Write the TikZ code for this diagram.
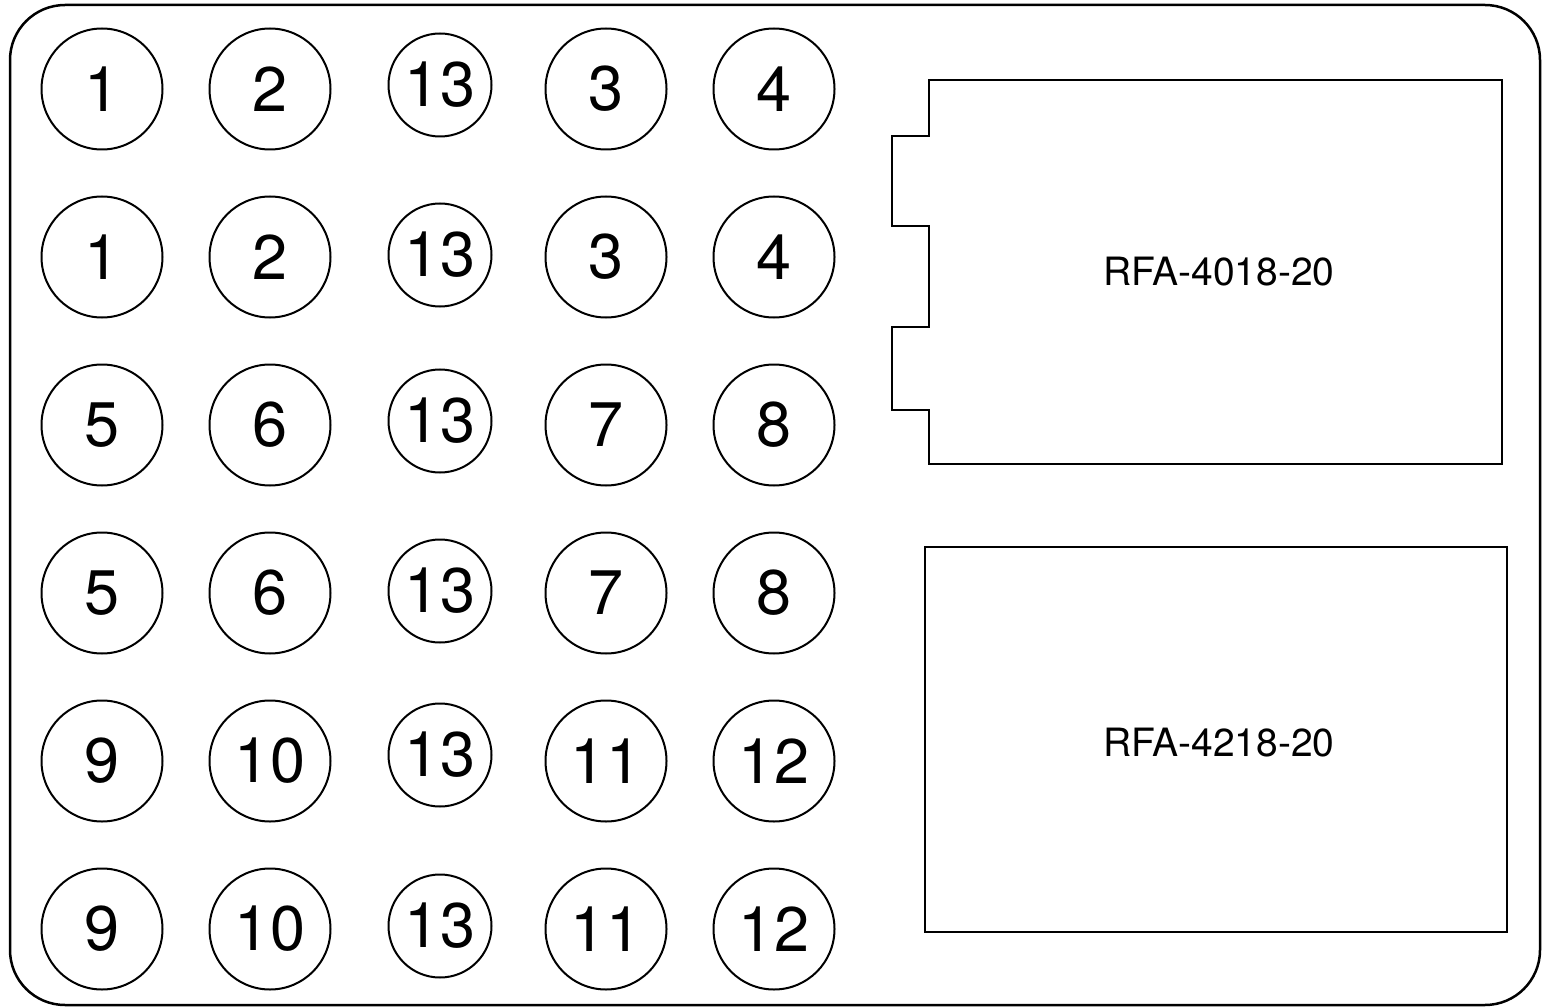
\documentclass[tikz,border=0pt]{standalone}
\usepackage{fontspec}
\setmainfont{TeX Gyre Heros}
\usepackage{tikz}

\tikzset{
  pin/.style = {draw, circle, line width=2pt, inner sep=0pt, minimum size=121pt,
                font=\fontsize{63}{70}\selectfont},
  gnd/.style = {pin, minimum size=103pt},
  board/.style = {line width=2.5pt},
  partname/.style = {font=\fontsize{39}{44}\selectfont}
}

\begin{document}
\begin{tikzpicture}[x=1pt, y=-1pt]
            \useasboundingbox (0,0) rectangle (1547,1008);
            % outer plate
            \draw[board, rounded corners=55pt] (10,5) rectangle (1540,1005);

            % row 1
            \node[pin] (p11) at (102,89) {1};
            \node[pin] (p12) at (270,89) {2};
            \node[gnd] (g1)  at (440,85) {13};
            \node[pin] (p13) at (606,89) {3};
            \node[pin] (p14) at (774,89) {4};
            % row 2
            \node[pin] (p21) at (102,257) {1};
            \node[pin] (p22) at (270,257) {2};
            \node[gnd] (g2)  at (440,255) {13};
            \node[pin] (p23) at (606,257) {3};
            \node[pin] (p24) at (774,257) {4};
            % row 3
            \node[pin] (p31) at (102,425) {5};
            \node[pin] (p32) at (270,425) {6};
            \node[gnd] (g3)  at (440,421) {13};
            \node[pin] (p33) at (606,425) {7};
            \node[pin] (p34) at (774,425) {8};
            % row 4
            \node[pin] (p41) at (102,593) {5};
            \node[pin] (p42) at (270,593) {6};
            \node[gnd] (g4)  at (440,591) {13};
            \node[pin] (p43) at (606,593) {7};
            \node[pin] (p44) at (774,593) {8};
            % row 5
            \node[pin] (p51) at (102,761) {9};
            \node[pin] (p52) at (270,761) {10};
            \node[gnd] (g5)  at (440,755) {13};
            \node[pin] (p53) at (606,761) {11};
            \node[pin] (p54) at (774,761) {12};
            % row 6
            \node[pin] (p61) at (102,929) {9};
            \node[pin] (p62) at (270,929) {10};
            \node[gnd] (g6)  at (440,926) {13};
            \node[pin] (p63) at (606,929) {11};
            \node[pin] (p64) at (774,929) {12};

            % keyed connector
            \draw[board] (929,80) -- (1502,80) -- (1502,464) -- (929,464)
                -- (929,410) -- (892,410) -- (892,327) -- (929,327)
                -- (929,226) -- (892,226) -- (892,136) -- (929,136) -- cycle;
            \node[partname] (rfa4018) at (1219,272) {RFA-4018-20};

            % plain connector
            \draw[board] (925,547) rectangle (1507,932);
            \node[partname] (rfa4218) at (1219,743) {RFA-4218-20};
\end{tikzpicture}
\end{document}
